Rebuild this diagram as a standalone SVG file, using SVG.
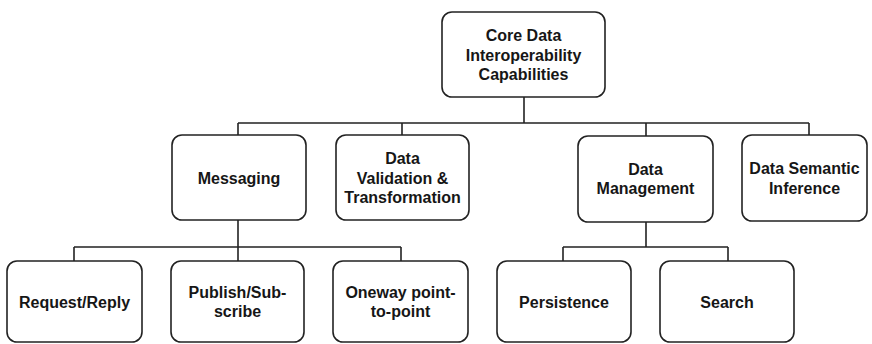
<svg xmlns="http://www.w3.org/2000/svg" width="872" height="344" viewBox="0 0 872 344">
<style>
.box{fill:#ffffff;stroke:#222222;stroke-width:1.6}
.lbl{font-family:"Liberation Sans",Arial,sans-serif;font-weight:bold;font-size:16px;fill:#161616;text-anchor:middle}
.conn{fill:none;stroke:#222222;stroke-width:1.6}
</style>
<rect width="872" height="344" fill="#ffffff"/>
<g id="connectors">
<path class="conn" d="M524 97V123M238 123H809M238 123V135M402 123V135M646 123V136M809 123V135"/>
<path class="conn" d="M238 220V261M74 247H401M74 247V261M401 247V261"/>
<path class="conn" d="M646 222V247M563 247H728M563 247V261M728 247V261"/>
</g>
<g id="core">
<rect class="box" x="442" y="12" width="163" height="85" rx="10"/>
<text class="lbl" x="523.5" y="41">Core Data</text>
<text class="lbl" x="523.5" y="60.5">Interoperability</text>
<text class="lbl" x="523.5" y="80">Capabilities</text>
</g>
<g id="messaging">
<rect class="box" x="172" y="135" width="134" height="85" rx="10"/>
<text class="lbl" x="239" y="183.5">Messaging</text>
</g>
<g id="validation">
<rect class="box" x="336" y="135" width="133" height="85" rx="10"/>
<text class="lbl" x="402.5" y="164">Data</text>
<text class="lbl" x="402.5" y="183.5">Validation &amp;</text>
<text class="lbl" x="402.5" y="203">Transformation</text>
</g>
<g id="management">
<rect class="box" x="578" y="136" width="135" height="86" rx="10"/>
<text class="lbl" x="645.5" y="174.5">Data</text>
<text class="lbl" x="645.5" y="194">Management</text>
</g>
<g id="semantic">
<rect class="box" x="742" y="135" width="125" height="86" rx="10"/>
<text class="lbl" x="804.5" y="174">Data Semantic</text>
<text class="lbl" x="804.5" y="193.5">Inference</text>
</g>
<g id="request">
<rect class="box" x="7" y="261" width="135" height="81" rx="10"/>
<text class="lbl" x="74.5" y="307.5">Request/Reply</text>
</g>
<g id="publish">
<rect class="box" x="171" y="261" width="133" height="81" rx="10"/>
<text class="lbl" x="237.5" y="297.5">Publish/Sub-</text>
<text class="lbl" x="237.5" y="317">scribe</text>
</g>
<g id="oneway">
<rect class="box" x="333" y="261" width="135" height="81" rx="10"/>
<text class="lbl" x="400.5" y="297.5">Oneway point-</text>
<text class="lbl" x="400.5" y="317">to-point</text>
</g>
<g id="persistence">
<rect class="box" x="497" y="261" width="134" height="81" rx="10"/>
<text class="lbl" x="564" y="307.5">Persistence</text>
</g>
<g id="search">
<rect class="box" x="660" y="261" width="134" height="81" rx="10"/>
<text class="lbl" x="727" y="307.5">Search</text>
</g>
</svg>
